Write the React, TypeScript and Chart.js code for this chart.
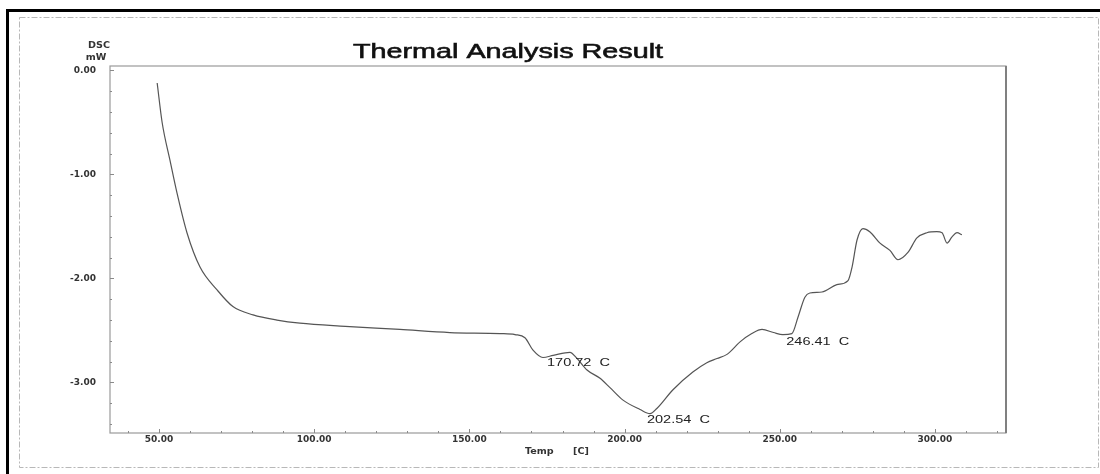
import React, { useEffect, useRef } from "react";
import { Chart, registerables } from "chart.js";

Chart.register(...registerables);

// ---- data ----
const tempValues: number[] = [
  49.4, 51.0, 53.5, 55.8, 59.0, 63.2, 68.7, 73.8, 80.3, 88.0, 95.4, 110.0, 127.6, 143.7,
  159.9, 164.7, 167.9, 170.5, 173.7, 177.0, 182.4, 184.7, 187.9, 192.1, 195.3, 199.5,
  205.0, 208.2, 210.4, 215.6, 222.0, 226.5, 229.8, 233.0, 237.2, 241.0, 244.3, 248.0,
  251.0, 253.9, 255.9, 258.1, 259.7, 263.6, 268.4, 272.0, 273.3, 274.9, 276.8, 279.0,
  282.3, 285.5, 288.1, 291.3, 294.2, 297.4, 300.6, 302.3, 303.9, 305.5, 307.1, 308.7,
];
const dscValues: number[] = [
  -0.12, -0.5, -0.86, -1.18, -1.56, -1.89, -2.11, -2.27, -2.35, -2.4, -2.43, -2.46, -2.49, -2.52,
  -2.53, -2.54, -2.57, -2.69, -2.76, -2.74, -2.71, -2.77, -2.88, -2.96, -3.05, -3.17,
  -3.26, -3.3, -3.25, -3.07, -2.9, -2.81, -2.77, -2.73, -2.61, -2.53, -2.49, -2.52,
  -2.54, -2.53, -2.37, -2.18, -2.14, -2.13, -2.06, -2.02, -1.89, -1.63, -1.52, -1.55,
  -1.66, -1.73, -1.82, -1.75, -1.61, -1.56, -1.55, -1.56, -1.66, -1.6, -1.56, -1.58,
];
const xTickValues: number[] = [50, 100, 150, 200, 250, 300];
const yTickValues: number[] = [0, -1, -2, -3];
const peakLabels: string[] = ["170.72  C", "202.54  C", "246.41  C"];
const peakLabelX: number[] = [175.0, 207.2, 252.1];
const peakLabelY: number[] = [-2.81, -3.36, -2.61];
const titleText = "Thermal Analysis Result";
const yUnitLines: string[] = ["DSC", "mW"];
const xAxisTitle: string[] = ["Temp", "[C]"];

const X_MIN = 34.2;
const X_MAX = 322.9;
const Y_MIN = -3.486;
const Y_MAX = 0.043;

function stretchText(
  ctx: CanvasRenderingContext2D,
  text: string,
  x: number,
  y: number,
  font: string,
  sx: number,
  align: CanvasTextAlign,
  color: string,
  strokeW = 0
) {
  ctx.save();
  ctx.translate(x, y);
  ctx.scale(sx, 1);
  ctx.font = font;
  ctx.textAlign = align;
  ctx.textBaseline = "middle";
  ctx.fillStyle = color;
  ctx.fillText(text, 0, 0);
  if (strokeW > 0) {
    ctx.strokeStyle = color;
    ctx.lineWidth = strokeW;
    ctx.strokeText(text, 0, 0);
  }
  ctx.restore();
}

const decorPlugin = {
  id: "decor",
  beforeDraw(chart: any) {
    const ctx = chart.ctx as CanvasRenderingContext2D;
    ctx.save();
    ctx.fillStyle = "#ffffff";
    ctx.fillRect(0, 0, chart.width, chart.height);
    ctx.restore();
  },
  afterDraw(chart: any) {
    const ctx = chart.ctx as CanvasRenderingContext2D;
    const { left, top, right, bottom } = chart.chartArea;
    const xs = chart.scales.x;
    const ys = chart.scales.y;
    ctx.save();

    // outer black frame (top and left)
    ctx.fillStyle = "#000";
    ctx.fillRect(6, 9, 1094, 3);
    ctx.fillRect(6, 9, 3, 465);

    // grey dotted inner frame
    ctx.strokeStyle = "#b8b8b8";
    ctx.lineWidth = 1;
    ctx.setLineDash([6, 2, 2, 2]);
    ctx.strokeRect(19.5, 17.5, 1079, 450);
    ctx.setLineDash([]);

    // plot frame
    ctx.strokeStyle = "#9a9a9a";
    ctx.lineWidth = 1.2;
    ctx.strokeRect(left, top, right - left, bottom - top);
    ctx.strokeStyle = "#808080";
    ctx.lineWidth = 2;
    ctx.beginPath();
    ctx.moveTo(right, top);
    ctx.lineTo(right, bottom);
    ctx.stroke();

    // inward ticks
    ctx.strokeStyle = "#8a8a8a";
    ctx.lineWidth = 1;
    ctx.beginPath();
    for (let v = 40; v <= X_MAX; v += 10) {
      const px = Math.round(xs.getPixelForValue(v)) + 0.5;
      const len = v % 50 === 0 ? 4 : 2;
      ctx.moveTo(px, bottom);
      ctx.lineTo(px, bottom - len);
    }
    for (let i = 0; i <= 17; i++) {
      const v = -i * 0.2;
      const py = Math.round(ys.getPixelForValue(v)) + 0.5;
      const len = i % 5 === 0 ? 4 : 2;
      ctx.moveTo(left, py);
      ctx.lineTo(left + len, py);
    }
    ctx.stroke();

    // title
    stretchText(ctx, titleText, 508, 52, "21px 'Liberation Sans', Arial", 1.37, "center", "#111", 0.6);

    // y unit
    stretchText(ctx, yUnitLines[0], 99, 46, "bold 8px 'DejaVu Sans'", 1.2, "center", "#333");
    stretchText(ctx, yUnitLines[1], 96, 58, "bold 8px 'DejaVu Sans'", 1.2, "center", "#333");

    // x title
    stretchText(ctx, xAxisTitle[0], 525, 452, "bold 8px 'DejaVu Sans'", 1.2, "left", "#333");
    stretchText(ctx, xAxisTitle[1], 573, 452, "bold 8px 'DejaVu Sans'", 1.2, "left", "#333");

    // peak labels
    for (let i = 0; i < peakLabels.length; i++) {
      const px = xs.getPixelForValue(peakLabelX[i]);
      const py = ys.getPixelForValue(peakLabelY[i]);
      stretchText(ctx, peakLabels[i], px, py, "11px 'Liberation Sans', Arial", 1.32, "left", "#222");
    }

    ctx.restore();
  },
};

export default function App() {
  const canvasRef = useRef<HTMLCanvasElement | null>(null);

  useEffect(() => {
    if (!canvasRef.current) return;
    const points = tempValues.map((t, i) => ({ x: t, y: dscValues[i] }));
    const chart = new Chart(canvasRef.current, {
      type: "line",
      data: {
        datasets: [
          {
            data: points,
            borderColor: "#555555",
            borderWidth: 1.2,
            pointRadius: 0,
            cubicInterpolationMode: "monotone",
            fill: false,
          },
        ],
      },
      options: {
        animation: false,
        responsive: false,
        maintainAspectRatio: false,
        layout: { padding: { left: 0, top: 66, right: 94, bottom: 0 } },
        plugins: {
          legend: { display: false },
          tooltip: { enabled: false },
          title: { display: false },
        },
        scales: {
          x: {
            type: "linear",
            min: X_MIN,
            max: X_MAX,
            grid: { display: false },
            border: { display: false },
            afterBuildTicks: (scale: any) => {
              scale.ticks = xTickValues.map((v) => ({ value: v }));
            },
            afterFit: (scale: any) => {
              scale.height = 41;
            },
            ticks: {
              padding: -7,
              autoSkip: false,
              maxRotation: 0,
              color: "#333",
              font: { family: "'DejaVu Sans'", size: 9, weight: "bold" },
              callback: (v: any) => Number(v).toFixed(2),
            },
          },
          y: {
            type: "linear",
            min: Y_MIN,
            max: Y_MAX,
            grid: { display: false },
            border: { display: false },
            afterBuildTicks: (scale: any) => {
              scale.ticks = yTickValues.map((v) => ({ value: v }));
            },
            afterFit: (scale: any) => {
              scale.width = 110;
            },
            ticks: {
              padding: 6,
              autoSkip: false,
              color: "#333",
              font: { family: "'DejaVu Sans'", size: 9, weight: "bold" },
              callback: (v: any) => Number(v).toFixed(2),
            },
          },
        },
      },
      plugins: [decorPlugin],
    });
    return () => chart.destroy();
  }, []);

  return (
    <div style={{ position: "absolute", left: 0, top: 0, width: 1100, height: 474 }}>
      <canvas ref={canvasRef} width={1100} height={474} style={{ width: 1100, height: 474 }} />
    </div>
  );
}
